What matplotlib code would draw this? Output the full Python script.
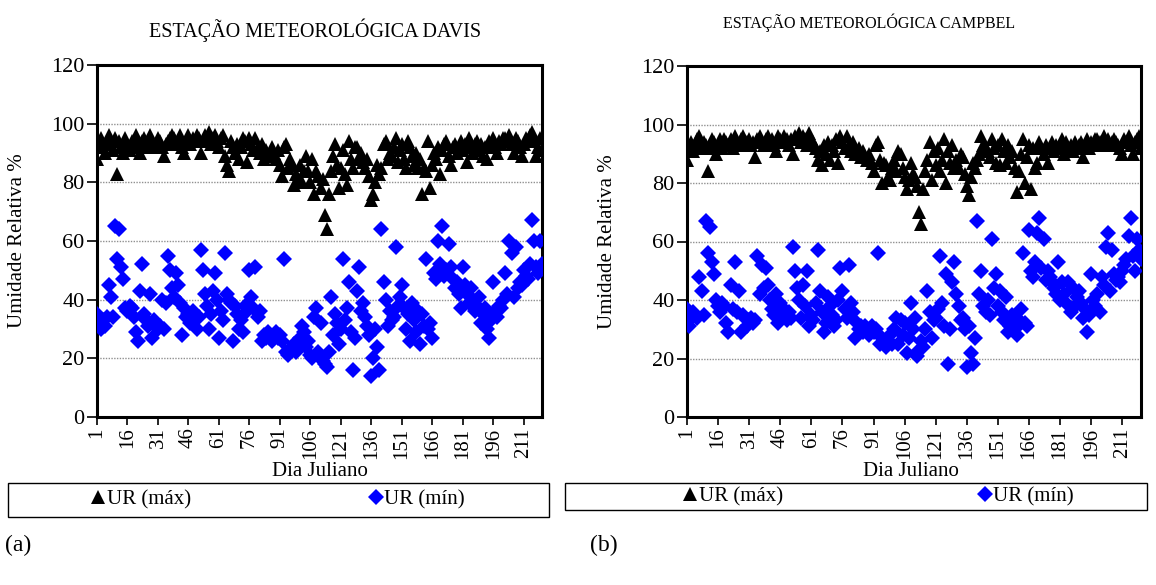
import matplotlib
matplotlib.use("Agg")
import matplotlib.pyplot as plt
from matplotlib.lines import Line2D
from matplotlib.patches import Rectangle

plt.rcParams['font.family'] = ['Liberation Serif', 'DejaVu Serif']

days = list(range(1, 221))

davis_max = [
    88, 93, 95, 92, 90, 94, 96, 93, 91, 95,
    83, 94, 92, 90, 95, 93, 91, 94, 92, 96,
    93, 90, 94, 95, 92, 93, 96, 94, 92, 93,
    95, 94, 92, 89, 93, 94, 95, 96, 95, 93,
    94, 96, 92, 90, 94, 96, 93, 95, 94, 96,
    95, 90, 94, 96, 95, 97, 93, 95, 96, 94,
    92, 95, 96, 89, 86, 84, 94, 92, 90, 93,
    88, 92, 95, 94, 87, 95, 93, 91, 95, 92,
    90, 93, 88, 91, 89, 89, 92, 90, 88, 91,
    86, 82, 92, 93, 85, 88, 86, 79, 83, 81,
    86, 80, 84, 89, 84, 80, 88, 76, 84, 82,
    78, 81, 69, 64, 76, 84, 89, 93, 86, 78,
    85, 91, 83, 79, 94, 88, 85, 92, 92, 88,
    90, 87, 85, 88, 82, 74, 76, 80, 86, 83,
    85, 93, 94, 88, 90, 89, 92, 95, 87, 91,
    93, 88, 85, 94, 92, 89, 86, 90, 85, 88,
    76, 85, 84, 94, 78, 86, 90, 88, 92, 83,
    91, 93, 94, 89, 86, 92, 93, 90, 92, 94,
    91, 93, 87, 95, 92, 90, 93, 94, 91, 93,
    89, 92, 88, 94, 93, 95, 92, 90, 94, 93,
    95, 95, 94, 96, 93, 90, 95, 94, 92, 89,
    93, 95, 94, 96, 97, 94, 89, 92, 95, 91,
]

davis_min = [
    35, 32, 30, 33, 31, 34, 45, 41, 34, 65,
    54, 64, 51, 47, 37, 36, 38, 37, 34, 29,
    26, 43, 52, 35, 33, 31, 42, 27, 33, 32,
    30, 31, 40, 30, 39, 55, 50, 44, 41, 49,
    45, 39, 28, 37, 34, 35, 32, 36, 33, 30,
    34, 57, 50, 42, 38, 30, 35, 43, 49, 40,
    27, 36, 33, 56, 42, 40, 39, 26, 38, 35,
    30, 33, 29, 38, 36, 50, 41, 37, 51, 34,
    36, 26, 28, 27, 29, 28, 26, 27, 29, 27,
    28, 26, 54, 22, 21, 23, 23, 25, 22, 24,
    27, 31, 29, 24, 26, 21, 20, 34, 37, 22,
    32, 19, 18, 17, 22, 41, 28, 35, 32, 25,
    30, 54, 33, 37, 46, 29, 16, 27, 43, 51,
    36, 39, 34, 31, 28, 14, 20, 30, 24, 16,
    64, 46, 40, 31, 36, 33, 34, 58, 38, 41,
    45, 37, 30, 35, 26, 39, 33, 29, 36, 25,
    35, 31, 54, 30, 32, 27, 49, 47, 60, 52,
    65, 48, 50, 59, 51, 47, 44, 46, 42, 37,
    51, 45, 42, 39, 44, 40, 36, 38, 41, 32,
    35, 37, 30, 27, 33, 46, 36, 34, 38, 37,
    40, 49, 42, 60, 56, 41, 58, 44, 46, 45,
    50, 48, 47, 52, 67, 60, 51, 49, 60, 52,
]

campbel_max = [
    88, 92, 94, 91, 93, 95, 96, 92, 94, 93,
    84, 92, 95, 94, 90, 93, 95, 92, 95, 94,
    93, 95, 92, 96, 94, 93, 95, 96, 93, 94,
    95, 93, 94, 89, 95, 96, 94, 93, 95, 96,
    94, 95, 93, 91, 96, 95, 94, 96, 95, 93,
    95, 90, 96, 95, 97, 94, 96, 95, 93, 97,
    95, 94, 92, 88, 91, 86, 93, 90, 94, 88,
    93, 91, 95, 87, 96, 94, 92, 96, 93, 91,
    94, 90, 90, 92, 89, 91, 89, 88, 90, 87,
    84, 93, 94, 88, 80, 87, 86, 82, 81, 85,
    88, 84, 91, 90, 85, 82, 78, 81, 87, 83,
    82, 79, 70, 66, 78, 84, 88, 94, 81, 91,
    86, 92, 84, 88, 95, 80, 91, 87, 93, 85,
    88, 85, 90, 89, 83, 79, 76, 82, 87, 85,
    88, 90, 96, 93, 92, 91, 89, 95, 92, 87,
    93, 86, 95, 91, 87, 93, 89, 91, 85, 77,
    84, 90, 95, 80, 89, 93, 78, 92, 85, 87,
    94, 92, 90, 93, 87, 92, 94, 91, 93, 92,
    93, 95, 90, 94, 92, 93, 91, 94, 92, 93,
    94, 89, 93, 95, 92, 94, 93, 95, 95, 94,
    93, 96, 94, 95, 93, 94, 95, 94, 93, 92,
    90, 95, 94, 96, 93, 90, 94, 95, 96, 92,
]

campbel_min = [
    37, 31, 34, 36, 35, 34, 48, 43, 35, 67,
    56, 65, 53, 49, 40, 38, 36, 39, 38, 32,
    29, 45, 37, 53, 36, 43, 29, 35, 34, 31,
    33, 34, 32, 33, 55, 42, 52, 44, 51, 45,
    40, 37, 35, 42, 32, 39, 35, 37, 33, 36,
    34, 58, 50, 44, 40, 34, 45, 38, 50, 31,
    35, 33, 39, 57, 43, 36, 29, 32, 41, 38,
    35, 31, 33, 40, 51, 43, 37, 34, 52, 39,
    36, 27, 32, 30, 31, 29, 31, 30, 28, 31,
    29, 30, 56, 25, 27, 26, 24, 26, 28, 25,
    30, 34, 25, 33, 28, 32, 22, 27, 39, 30,
    34, 21, 23, 26, 24, 30, 43, 36, 27, 33,
    34, 37, 55, 39, 31, 49, 18, 30, 46, 53,
    42, 38, 33, 34, 30, 17, 31, 22, 18, 27,
    67, 42, 50, 38, 36, 40, 35, 61, 44, 49,
    38, 43, 36, 33, 41, 29, 31, 35, 30, 28,
    33, 37, 56, 32, 31, 64, 50, 48, 53, 63,
    68, 51, 61, 47, 50, 48, 46, 44, 42, 53,
    40, 46, 42, 39, 46, 36, 44, 38, 41, 43,
    39, 34, 37, 29, 35, 49, 40, 38, 42, 36,
    48, 45, 58, 63, 43, 57, 49, 47, 48, 46,
    50, 52, 54, 62, 68, 55, 50, 61, 57, 54,
]

titles = ["ESTAÇÃO METEOROLÓGICA DAVIS", "ESTAÇÃO METEOROLÓGICA CAMPBEL"]
xtick_days = list(range(1, 221, 15))
yticks = [0, 20, 40, 60, 80, 100, 120]
label_max = "UR (máx)"
label_min = "UR (mín)"

W, H = 1156, 585
fig = plt.figure(figsize=(W / 100, H / 100), dpi=100)


def fx(px):
    return px / W


def fy(py):
    return 1 - py / H


panels = [
    dict(box=(97, 65, 542, 417), ymax=davis_max, ymin=davis_min, title=titles[0],
         title_xy=(315, 30), title_fs=14.5, ylab_x=18, xlab_xy=(320, 472),
         leg_box=(8, 483, 549, 517), leg_x=92, colsp=8.6, lab="(a)", lab_xy=(5, 545)),
    dict(box=(687, 66, 1141, 417), ymax=campbel_max, ymin=campbel_min, title=titles[1],
         title_xy=(869, 23), title_fs=11.5, ylab_x=607, xlab_xy=(911, 472),
         leg_box=(565, 483, 1147, 510), leg_x=684, colsp=9.4, lab="(b)", lab_xy=(590, 545)),
]

for p in panels:
    x0, y0, x1, y1 = p["box"]
    ax = fig.add_axes([fx(x0), fy(y1), fx(x1 - x0), (y1 - y0) / H])
    ax.set_xlim(1, 220)
    ax.set_ylim(0, 120)
    ax.set_yticks(yticks)
    ax.set_xticks(xtick_days)
    ax.set_xticklabels([str(d) for d in xtick_days], rotation=90)
    ax.tick_params(axis='y', direction='out', length=7, width=1.2,
                   labelsize=16, colors='black', pad=2)
    ax.tick_params(axis='x', direction='out', length=6, width=1.2,
                   labelsize=15, colors='black', pad=1.5)
    for s in ax.spines.values():
        s.set_linewidth(2.2)
        s.set_color('black')
    for g in [20, 40, 60, 80, 100]:
        ax.axhline(g, color='#909090', linestyle=(0, (1, 1)), linewidth=1.0, zorder=1)
    ax.plot(days, p["ymax"], linestyle='none', marker='^', markersize=10.5,
            color='black', markeredgewidth=0, zorder=3)
    ax.plot(days, p["ymin"], linestyle='none', marker='D', markersize=7.8,
            color='#0000ff', markeredgewidth=0, zorder=3)

    fig.text(fx(p["title_xy"][0]), fy(p["title_xy"][1]), p["title"], ha='center',
             va='center', fontsize=p["title_fs"])
    fig.text(fx(p["ylab_x"]), fy((y0 + y1) / 2), "Umidade Relativa %", rotation=90,
             ha='center', va='center', fontsize=15)
    fig.text(fx(p["xlab_xy"][0]), fy(p["xlab_xy"][1]), "Dia Juliano", ha='center',
             va='center', fontsize=15)

    lx0, ly0, lx1, ly1 = p["leg_box"]
    fig.add_artist(Rectangle((fx(lx0), fy(ly1)), fx(lx1 - lx0), (ly1 - ly0) / H,
                             transform=fig.transFigure, fill=False,
                             edgecolor='black', linewidth=1.0))
    handles = [Line2D([], [], linestyle='none', marker='^', markersize=10.5,
                      color='black', markeredgewidth=0),
               Line2D([], [], linestyle='none', marker='D', markersize=7.8,
                      color='#0000ff', markeredgewidth=0)]
    fig.legend(handles, [label_max, label_min], ncol=2, loc='center left',
               bbox_to_anchor=(fx(p["leg_x"]), fy((ly0 + ly1) / 2)),
               frameon=False, fontsize=15, handlelength=0.6, handletextpad=0.1,
               columnspacing=p["colsp"], borderpad=0, borderaxespad=0)
    fig.text(fx(p["lab_xy"][0]), fy(p["lab_xy"][1]), p["lab"], ha='left',
             va='center', fontsize=17)

fig.savefig("out.png", dpi=100)
